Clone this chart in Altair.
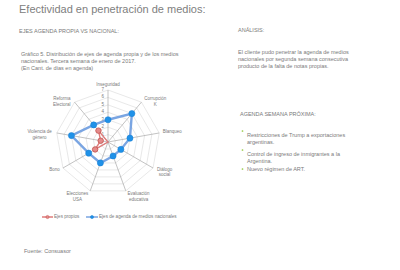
import altair as alt
import pandas as pd

# ---------------- data ----------------
categories = ["Inseguridad", "Corrupción K", "Blanqueo", "Diálogo social",
              "Evaluación educativa", "Elecciones USA", "Bono",
              "Violencia de género", "Reforma Electoral"]
labels = ["Inseguridad", "Corrupción\nK", "Blanqueo", "Diálogo\nsocial",
          "Evaluación\neducativa", "Elecciones\nUSA", "Bono",
          "Violencia de\ngénero", "Reforma\nElectoral"]
series_names = ["Ejes propios", "Ejes de agenda de medios nacionales"]
propios = [0, 0, 0, 0, 0, 0, 2, 1, 2]
nacionales = [3, 5, 3, 2, 2, 3, 3, 5, 3]
ticks = [1, 2, 3, 4, 5, 6, 7]

title_text = "Efectividad en penetración de medios:"
left_head = "EJES AGENDA PROPIA VS NACIONAL:"
left_par = ("Gráfico 5. Distribución de ejes de agenda propia y de los medios\n"
            "nacionales. Tercera semana de enero de 2017.\n"
            "(En Cant. de días en agenda)")
right_head = "ANÁLISIS:"
right_par = ("El cliente pudo penetrar la agenda de medios\n"
             "nacionales por segunda semana consecutiva\n"
             "producto de la falta de notas propias.")
agenda_head = "AGENDA SEMANA PRÓXIMA:"
agenda_items = ["Restricciones de Trump a exportaciones\nargentinas.",
                "Control de ingreso de inmigrantes a la\nArgentina.",
                "Nuevo régimen de ART."]
source_text = "Fuente: Consuasor"

# ---------------- tables ----------------
n = len(categories)
rows = []
for s, vals in zip(series_names, [propios, nacionales]):
    for k, (c, v) in enumerate(zip(categories, vals)):
        rows.append({"k": k, "cat": c, "series": s, "value": v})
df = pd.DataFrame(rows)
grid = pd.DataFrame([{"k": k, "level": t} for t in ticks for k in range(n)])
spokes = pd.DataFrame({"k": list(range(n)), "label": labels})
tick_df = pd.DataFrame({"t": ticks})
one = pd.DataFrame({"a": [0]})

# ---------------- geometry via scales ----------------
W, H = 400, 270
CX, CY, R = 108, 142, 52
rmax = max(ticks)
u = R / rmax
xs = alt.Scale(domain=[-CX / u, (W - CX) / u], range=[0, W], nice=False, zero=False)
ys = alt.Scale(domain=[(CY - H) / u, CY / u], range=[H, 0], nice=False, zero=False)
TH = f"datum.k*2*PI/{n}"

FONT = "Liberation Sans"
GRAY = "#7a7a7a"

def X(f):
    return alt.X(f, type="quantitative", scale=xs, axis=None)

def Y(f):
    return alt.Y(f, type="quantitative", scale=ys, axis=None)

rings = alt.Chart(grid).transform_calculate(
    px=f"datum.level*sin({TH})", py=f"datum.level*cos({TH})"
).mark_line(interpolate="linear-closed", color="#d9d9d9", strokeWidth=0.6).encode(
    x=X("px"), y=Y("py"), order="k:Q", detail="level:N")

spk = alt.Chart(spokes).transform_calculate(
    z="0", ex=f"{rmax}*sin({TH})", ey=f"{rmax}*cos({TH})"
).mark_rule(color="#9a9a9a", strokeWidth=0.6).encode(
    x=X("z"), y=Y("z"), x2="ex:Q", y2="ey:Q")

tick_lbl = alt.Chart(tick_df).transform_calculate(z="0").mark_text(
    align="right", baseline="middle", dx=-4, fontSize=4.5, font=FONT, color=GRAY
).encode(x=X("z"), y=Y("t"), text="t:Q")

cat_lbl = alt.Chart(spokes).transform_calculate(
    th=TH,
).transform_calculate(
    w="max(length(split(datum.label,'\\n')[0]), length(peek(split(datum.label,'\\n'))))",
    sg="abs(sin(datum.th)) < 0.01 ? 0 : (sin(datum.th) > 0 ? 1 : -1)",
).transform_calculate(
    lx=f"{rmax}*1.07*sin(datum.th) + datum.sg*(0.14*datum.w + 0.15)",
    ly=f"{rmax}*1.07*cos(datum.th) + (datum.sg == 0 ? 0.2 : 0)",
).mark_text(align="center", baseline="middle", lineBreak="\n", lineHeight=5.5,
            fontSize=4.5, font=FONT, color=GRAY).encode(
    x=X("lx"), y=Y("ly"), text="label:N")

RED_L, RED_P, RED_S = "#df7b7b", "#e48a8a", "#c0504d"
BLUE_L, BLUE_P = "#7aa5e2", "#1f91e8"

base = alt.Chart(df).transform_calculate(
    px=f"datum.value*sin({TH})", py=f"datum.value*cos({TH})")

blue_line = base.transform_filter(alt.datum.series == series_names[1]).mark_line(
    interpolate="linear-closed", color=BLUE_L, strokeWidth=2.4).encode(
    x=X("px"), y=Y("py"), order="k:Q")
blue_pts = base.transform_filter(alt.datum.series == series_names[1]).mark_point(
    filled=True, size=38, color=BLUE_P, opacity=1, stroke="#1b7fd0", strokeWidth=0.5).encode(
    x=X("px"), y=Y("py"))
red_line = base.transform_filter(alt.datum.series == series_names[0]).mark_line(
    interpolate="linear-closed", color=RED_L, strokeWidth=1.4).encode(
    x=X("px"), y=Y("py"), order="k:Q")
red_pts = base.transform_filter(
    (alt.datum.series == series_names[0]) & (alt.datum.value > 0)).mark_point(
    filled=True, size=30, color=RED_P, opacity=1, stroke=RED_S, strokeWidth=0.8).encode(
    x=X("px"), y=Y("py"))

def txt(s, x, y, size=5.5, color=GRAY, lh=7, align="left", fw="normal"):
    return alt.Chart(one).mark_text(
        align=align, baseline="middle", lineBreak="\n", lineHeight=lh,
        fontSize=size, font=FONT, color=color, fontWeight=fw).encode(
        x=alt.value(x), y=alt.value(y), text=alt.value(s))

texts = [
    txt(title_text, 19, 10, size=11, color="#808080"),
    txt(left_head, 19, 31),
    txt(left_par, 21, 54),
    txt(right_head, 238, 30),
    txt(right_par, 238, 52),
    txt(agenda_head, 240, 114),
    txt(source_text, 24, 251),
    txt(series_names[0], 54, 217, size=4.6),
    txt(series_names[1], 99, 217, size=4.6),
]
for item, yc, yb in zip(agenda_items, [134.5, 153.5, 169], [131, 150, 169]):
    texts.append(txt(item, 247, yc, lh=7))
    texts.append(alt.Chart(one).mark_point(filled=True, shape="circle", size=3,
                                           color="#92c83e", opacity=1).encode(
        x=alt.value(242.5), y=alt.value(yb)))

leg = []
for (x1, x2, lc, pc, ps) in [(42, 53, RED_L, RED_P, RED_S), (86, 98, BLUE_L, BLUE_P, "#1b7fd0")]:
    leg.append(alt.Chart(one).mark_rule(color=lc, strokeWidth=1.5).encode(
        x=alt.value(x1), x2=alt.value(x2), y=alt.value(217)))
    leg.append(alt.Chart(one).mark_point(filled=True, size=10, color=pc, opacity=1,
                                         stroke=ps, strokeWidth=0.5).encode(
        x=alt.value((x1 + x2) / 2), y=alt.value(217)))

chart = alt.layer(rings, spk, tick_lbl, cat_lbl, blue_line, red_line, blue_pts, red_pts,
                  *texts, *leg).properties(
    width=W, height=H, padding=0, autosize=alt.AutoSizeParams(type="none"),
    background="white"
).configure_view(stroke=None)

chart.save("out.html", embed_options={"renderer": "svg", "actions": False})
